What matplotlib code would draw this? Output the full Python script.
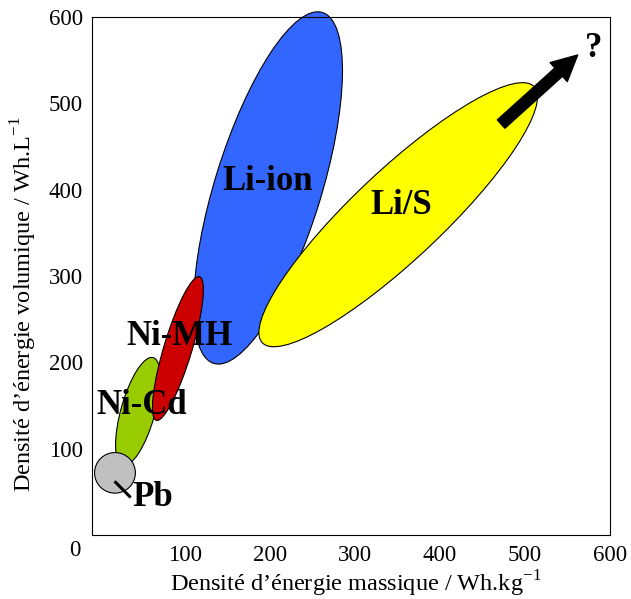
import matplotlib
matplotlib.use("Agg")
import matplotlib.pyplot as plt
from matplotlib.patches import Ellipse, FancyArrowPatch

plt.rcParams['font.family'] = 'Liberation Serif'
plt.rcParams['mathtext.fontset'] = 'custom'
plt.rcParams['mathtext.rm'] = 'Liberation Serif'

# domaines des technologies (Wh/kg, Wh/L)
technos = ['Li-ion', 'Li/S', 'Ni-Cd', 'Ni-MH', 'Pb']
centre_massique = [198, 351, 45, 92, 18]
centre_volumique = [402, 371, 143, 216, 72]
grand_axe = [426, 436, 130, 174, 48]
petit_axe = [125, 104, 40, 33, 47]
inclinaison = [72.5, 42.8, 74, 73, 0]
couleurs = ['#3366ff', '#ffff00', '#99cc00', '#cc0000', '#c0c0c0']

# position des etiquettes
etiq_x = [198, 355, 49, 93.5, 62]
etiq_y = [410, 382, 150, 230, 43]

# fleche "?" vers le futur
fleche_depart = (472, 476)
fleche_arrivee = (562, 556)

ticks = [100, 200, 300, 400, 500, 600]

fig = plt.figure(figsize=(6.31, 5.99), dpi=100)
ax = fig.add_axes([92 / 631, 64 / 599, 518 / 631, 518 / 599])

for i, nom in enumerate(technos):
    e = Ellipse((centre_massique[i], centre_volumique[i]), grand_axe[i], petit_axe[i],
                angle=inclinaison[i], facecolor=couleurs[i], edgecolor='black',
                linewidth=0.8, zorder=2 + i, clip_on=False)
    ax.add_patch(e)
    ax.text(etiq_x[i], etiq_y[i], nom, fontsize=25, fontweight='bold',
            ha='center', va='center', zorder=20)

# trait du Pb
ax.plot([17.6, 36.5], [62.2, 43.4], color='black', lw=2.2, zorder=15,
        solid_capstyle='butt')

arr = FancyArrowPatch(fleche_depart, fleche_arrivee,
                      arrowstyle='simple,head_length=18.4,head_width=18.4,tail_width=8.1',
                      mutation_scale=1, shrinkA=0, shrinkB=0, color='black', zorder=18)
ax.add_patch(arr)
ax.text(581, 564, '?', fontsize=25, fontweight='bold', ha='center', va='center')

ax.set_xlim(-9, 600)
ax.set_ylim(0, 600)
ax.set_xticks(ticks)
ax.set_yticks(ticks)
ax.tick_params(axis='both', length=0, labelsize=16.5)
ax.tick_params(axis='x', pad=7)
ax.tick_params(axis='y', pad=6.5)
fig.text(75 / 631, 1 - 551 / 599, '0', fontsize=16.5, ha='center', va='center')

ax.set_xlabel('Densité d’énergie massique / Wh.kg$^{-1}$', fontsize=17.5)
ax.xaxis.set_label_coords(0.51, -0.095)
ax.xaxis.label.set_va('center')
ax.set_ylabel('Densité d’énergie volumique / Wh.L$^{-1}$', fontsize=17.5)
ax.yaxis.set_label_coords(-0.131, 0.446)
ax.yaxis.label.set_va('center')

fig.savefig('out.png', dpi=100)
